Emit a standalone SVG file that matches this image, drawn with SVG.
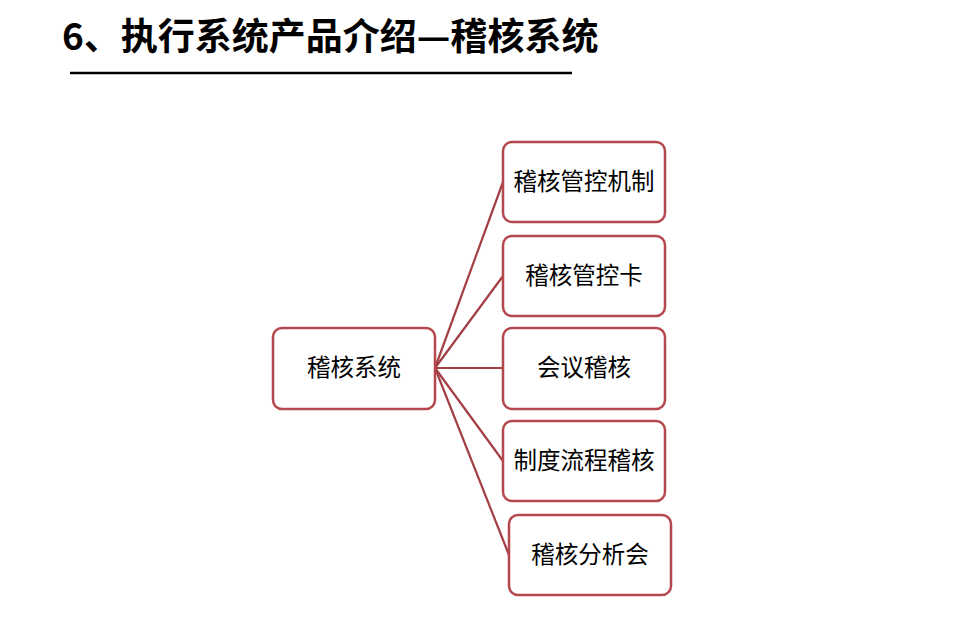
<svg xmlns="http://www.w3.org/2000/svg" width="960" height="618" viewBox="0 0 960 618">
<style>
.b{fill:#fff;stroke:#b5484e;stroke-width:2.5}
.t{font-family:"Noto Sans CJK SC",sans-serif;font-size:23.5px;fill:#000;text-anchor:middle;dominant-baseline:central}
.c{stroke:#a23e44;stroke-width:2.2;fill:none}
</style>
<rect width="960" height="618" fill="#fff"/>
<text x="62" y="50" style="font-family:'Noto Sans CJK SC',sans-serif;font-size:37px;font-weight:bold">6、执行系统产品介绍—稽核系统</text>
<line x1="70" y1="73" x2="572" y2="73" stroke="#000" stroke-width="2.5"/>
<g id="connectors">
<line class="c" x1="435" y1="368" x2="503" y2="182"/>
<line class="c" x1="435" y1="368" x2="503" y2="276"/>
<line class="c" x1="435" y1="368" x2="503" y2="368"/>
<line class="c" x1="435" y1="368" x2="503" y2="461"/>
<line class="c" x1="435" y1="368" x2="509" y2="555"/>
</g>
<g id="root"><rect class="b" x="273" y="328" width="162" height="81" rx="9"/><text class="t" x="354" y="366">稽核系统</text></g>
<g id="n1"><rect class="b" x="503" y="142" width="162" height="80" rx="9"/><text class="t" x="584" y="180">稽核管控机制</text></g>
<g id="n2"><rect class="b" x="503" y="236" width="162" height="80" rx="9"/><text class="t" x="584" y="274">稽核管控卡</text></g>
<g id="n3"><rect class="b" x="503" y="328" width="162" height="81" rx="9"/><text class="t" x="584" y="366">会议稽核</text></g>
<g id="n4"><rect class="b" x="503" y="421" width="162" height="80" rx="9"/><text class="t" x="584" y="459">制度流程稽核</text></g>
<g id="n5"><rect class="b" x="509" y="515" width="162" height="80" rx="9"/><text class="t" x="590" y="553">稽核分析会</text></g>
</svg>
